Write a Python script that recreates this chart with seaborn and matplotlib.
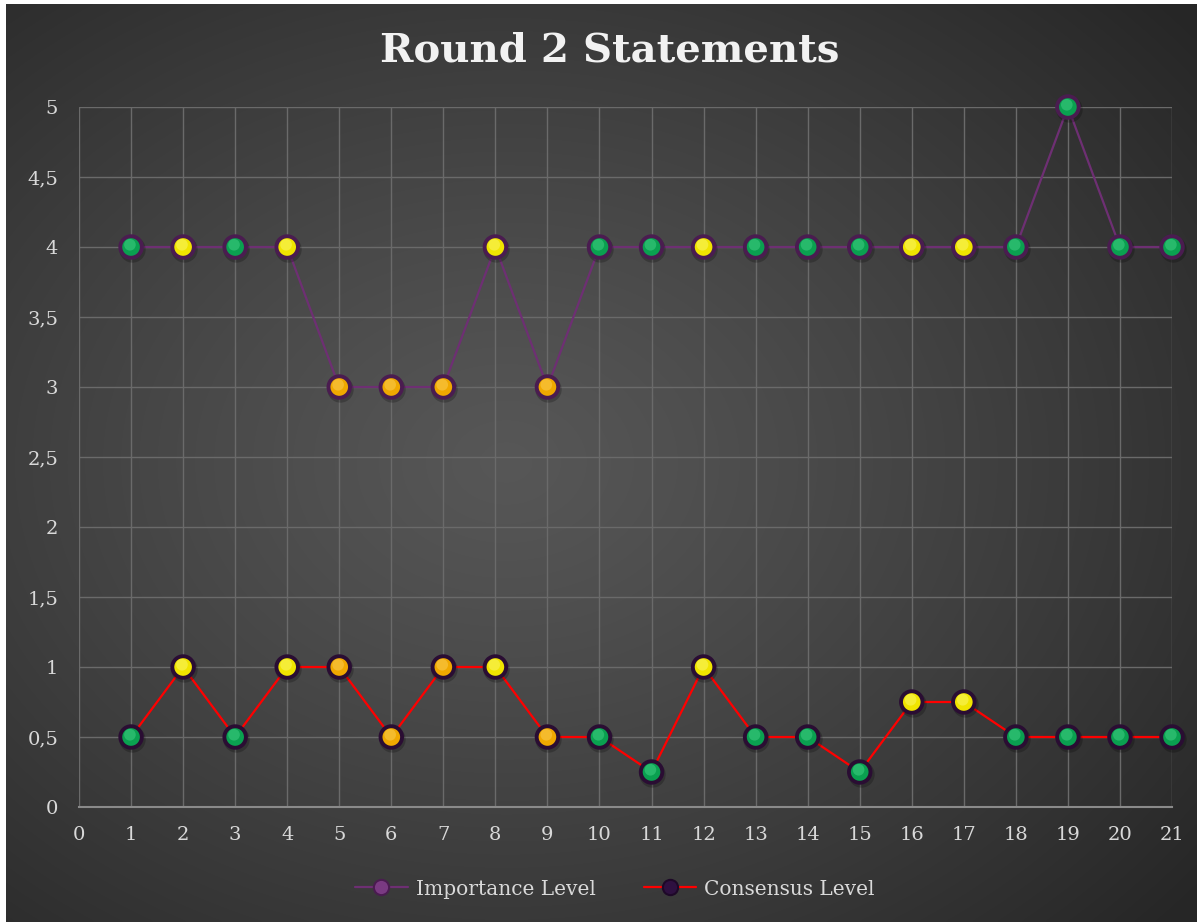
import numpy as np
import pandas as pd
import matplotlib
matplotlib.use("Agg")
import matplotlib.pyplot as plt
import matplotlib.transforms as mtransforms
from matplotlib.lines import Line2D
import seaborn as sns

# ---------------- data ----------------
statements = list(range(1, 22))
importance = [4, 4, 4, 4, 3, 3, 3, 4, 3, 4, 4, 4, 4, 4, 4, 4, 4, 4, 5, 4, 4]
consensus = [0.5, 1, 0.5, 1, 1, 0.5, 1, 1, 0.5, 0.5, 0.25, 1, 0.5, 0.5, 0.25,
             0.75, 0.75, 0.5, 0.5, 0.5, 0.5]
status = ["G", "Y", "G", "Y", "O", "O", "O", "Y", "O", "G", "G", "Y", "G", "G",
          "G", "Y", "Y", "G", "G", "G", "G"]
series_names = ["Importance Level", "Consensus Level"]
title = "Round 2 Statements"
x_ticks = list(range(0, 22))
y_ticks = [0, 0.5, 1, 1.5, 2, 2.5, 3, 3.5, 4, 4.5, 5]

df = pd.DataFrame({"statement": statements, "importance": importance,
                   "consensus": consensus, "status": status})

# ---------------- styling ----------------
sns.set_theme(style="dark")
plt.rcParams["font.family"] = ["DejaVu Serif", "DejaVu Sans"]

base_col = {"G": "#0aa050", "Y": "#f0e400", "O": "#f0a800"}
hi_col = {"G": "#60e8a0", "Y": "#ffffa0", "O": "#ffe080"}
txt = "#d9d9d9"

W, H = 1197, 922
fig = plt.figure(figsize=(W / 100, H / 100), dpi=100, facecolor="white")

# radial gradient background
bg = fig.add_axes([6 / W, 0, 1 - 6 / W, 1 - 4 / H])
bg.set_axis_off()
yy, xx = np.mgrid[0:1:400j, 0:1:520j]
r = np.sqrt(((xx - 0.42) / 0.75) ** 2 + ((yy - 0.5) / 0.75) ** 2)
r = np.clip(r, 0, 1)
val = 0.34 - (0.34 - 0.15) * r ** 1.2
img = np.dstack([val, val, val])
bg.imshow(img, aspect="auto", extent=[0, 1, 0, 1], interpolation="bicubic")
bg.set_xlim(0, 1)
bg.set_ylim(0, 1)
bg.set_zorder(-10)

ax = fig.add_axes([79 / W, 1 - 807 / H, (1172 - 79) / W, (807 - 107) / H])
ax.set_facecolor("none")
ax.patch.set_alpha(0)

# lines
sns.lineplot(data=df, x="statement", y="importance", ax=ax, color="#6e2f73",
             linewidth=1.6, zorder=3, legend=False)
sns.lineplot(data=df, x="statement", y="consensus", ax=ax, color="#ff0000",
             linewidth=1.6, zorder=3, legend=False)

shadow_tr = mtransforms.offset_copy(ax.transData, fig=fig, x=0.6, y=-1.2, units="points")
hi_tr = mtransforms.offset_copy(ax.transData, fig=fig, x=-0.8, y=1.6, units="points")

for col, edge in [("importance", "#4a1c50"), ("consensus", "#2a0d33")]:
    sh = ax.scatter(df["statement"], df[col], s=360, color="black", alpha=0.22,
                    linewidths=0, transform=shadow_tr, zorder=4)
    sh.set_clip_on(False)
    sns.scatterplot(data=df, x="statement", y=col, hue="status", palette=base_col,
                    s=240, edgecolor=edge, linewidth=2.8, ax=ax, zorder=5,
                    legend=False, clip_on=False)
    hi = ax.scatter(df["statement"], df[col], s=70,
                    color=[hi_col[c] for c in df["status"]], alpha=0.35,
                    linewidths=0, transform=hi_tr, zorder=6)
    hi.set_clip_on(False)

# axes
ax.set_xlim(0, 21)
ax.set_ylim(0, 5)
ax.set_xticks(x_ticks)
ax.set_yticks(y_ticks)
ax.set_xticklabels([str(t) for t in x_ticks])
ax.set_yticklabels([("%g" % t).replace(".", ",") for t in y_ticks])
ax.set_xlabel("")
ax.set_ylabel("")
ax.grid(True, color="#6a6a6a", linewidth=1.0, zorder=0)
ax.set_axisbelow(True)
for s in ["top", "right", "left"]:
    ax.spines[s].set_visible(False)
ax.spines["bottom"].set_color("#8a8a8a")
ax.spines["bottom"].set_linewidth(1.5)
ax.tick_params(axis="both", length=0, colors=txt, labelsize=14)
ax.tick_params(axis="x", pad=14)
ax.tick_params(axis="y", pad=15)
for lab in ax.get_xticklabels() + ax.get_yticklabels():
    lab.set_color(txt)

# title
fig.text(610 / W, 1 - 50 / H, title, ha="center", va="center", color="#f2f2f2",
         fontsize=29, fontweight="heavy", family=["DejaVu Serif", "DejaVu Sans"])

# legend
handles = [
    Line2D([0], [0], color="#6e2f73", linewidth=1.6, marker="o", markersize=11,
           markerfacecolor="#7a3a82", markeredgecolor="#4a1c50", markeredgewidth=1.5),
    Line2D([0], [0], color="#ff0000", linewidth=1.6, marker="o", markersize=11,
           markerfacecolor="#2e1040", markeredgecolor="#1e0828", markeredgewidth=1.5),
]
leg = fig.legend(handles, series_names, loc="center", bbox_to_anchor=(615 / W, 1 - 889 / H),
                 ncol=2, frameon=False, fontsize=14.5, handlelength=2.6,
                 columnspacing=2.4, handletextpad=0.4)
for t in leg.get_texts():
    t.set_color(txt)

fig.savefig("out.png", dpi=100, facecolor=fig.get_facecolor())
